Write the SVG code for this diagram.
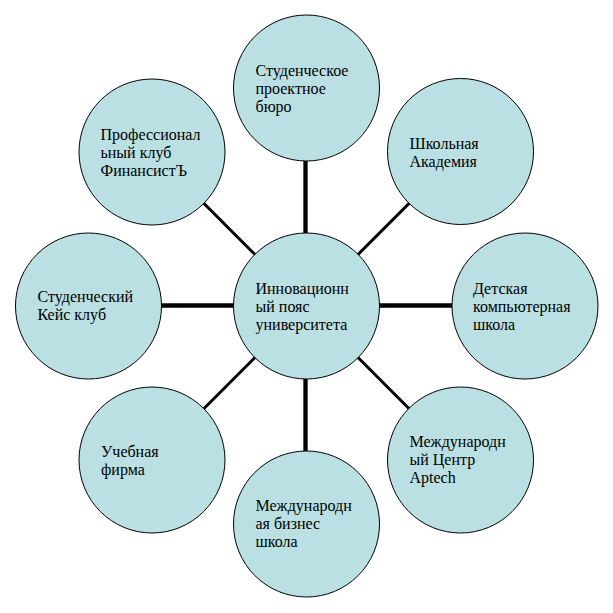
<svg xmlns="http://www.w3.org/2000/svg" width="613" height="613" viewBox="0 0 613 613">
<style>
.n{fill:#BBE0E3;stroke:#000;stroke-width:1}
.t{font-family:"Liberation Serif","Times New Roman",serif;font-size:16px;fill:#000}
.o{stroke:#000;stroke-width:4.3}
.d{stroke:#000;stroke-width:3}
</style>
<rect width="613" height="613" fill="#fff"/>
<g id="connectors">
<line class="o" x1="305.5" y1="88" x2="305.5" y2="306"/>
<line class="o" x1="305.5" y1="306" x2="305.5" y2="524"/>
<line class="o" x1="88.5" y1="305.5" x2="306.5" y2="305.5"/>
<line class="o" x1="306.5" y1="305.5" x2="524.5" y2="305.5"/>
<line class="d" x1="152.3" y1="151.8" x2="306.5" y2="306"/>
<line class="d" x1="460.7" y1="151.8" x2="306.5" y2="306"/>
<line class="d" x1="152.3" y1="460.2" x2="306.5" y2="306"/>
<line class="d" x1="460.7" y1="460.2" x2="306.5" y2="306"/>
</g>
<g id="center">
<circle class="n" cx="306.5" cy="306" r="73"/>
<text class="t" x="255.5"><tspan x="255.5" y="294">Инновационн</tspan><tspan x="255.5" y="312">ый пояс</tspan><tspan x="255.5" y="330">университета</tspan></text>
</g>
<g id="top">
<circle class="n" cx="306.5" cy="88" r="73"/>
<text class="t"><tspan x="255.5" y="76">Студенческое</tspan><tspan x="255.5" y="94">проектное</tspan><tspan x="255.5" y="112">бюро</tspan></text>
</g>
<g id="top-right">
<circle class="n" cx="460.5" cy="151.5" r="73"/>
<text class="t"><tspan x="409.5" y="149">Школьная</tspan><tspan x="409.5" y="167">Академия</tspan></text>
</g>
<g id="right">
<circle class="n" cx="525" cy="306" r="73"/>
<text class="t"><tspan x="473" y="294">Детская</tspan><tspan x="473" y="312">компьютерная</tspan><tspan x="473" y="330">школа</tspan></text>
</g>
<g id="bottom-right">
<circle class="n" cx="460.5" cy="460" r="73"/>
<text class="t"><tspan x="409.5" y="447">Международн</tspan><tspan x="409.5" y="465">ый Центр</tspan><tspan x="409.5" y="483">Aptech</tspan></text>
</g>
<g id="bottom">
<circle class="n" cx="306.5" cy="524" r="73"/>
<text class="t"><tspan x="255.5" y="511">Международн</tspan><tspan x="255.5" y="529">ая бизнес</tspan><tspan x="255.5" y="547">школа</tspan></text>
</g>
<g id="bottom-left">
<circle class="n" cx="152" cy="460" r="73"/>
<text class="t"><tspan x="101" y="457">Учебная</tspan><tspan x="101" y="475">фирма</tspan></text>
</g>
<g id="left">
<circle class="n" cx="88.5" cy="306" r="73"/>
<text class="t"><tspan x="37.5" y="302">Студенческий</tspan><tspan x="37.5" y="320">Кейс клуб</tspan></text>
</g>
<g id="top-left">
<circle class="n" cx="152" cy="152" r="73"/>
<text class="t"><tspan x="100.5" y="139.5">Профессионал</tspan><tspan x="100.5" y="157.5">ьный клуб</tspan><tspan x="100.5" y="175.5">ФинансистЪ</tspan></text>
</g>
</svg>
